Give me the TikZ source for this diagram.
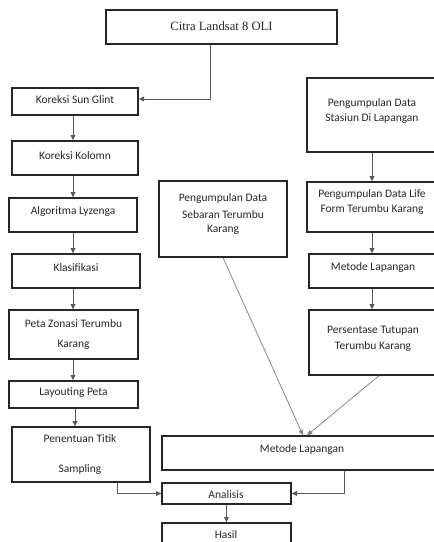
\documentclass[tikz,border=0pt]{standalone}
\usepackage{fontspec}
\setmainfont{Carlito}
\newfontfamily\serifit{Liberation Serif}
\usetikzlibrary{arrows.meta}
\begin{document}
\begin{tikzpicture}[x=0.75pt,y=-0.75pt,
  box/.style={draw=black!85,line width=1pt,inner sep=0pt},
  txt/.style={inner sep=0pt,font=\fontsize{8.6}{10}\selectfont,text=black!85},
  con/.style={draw=black!65,line width=0.6pt,-{Triangle[length=4pt,width=3.6pt]}},
  diag/.style={draw=black!50,line width=0.55pt,-{Triangle[length=4pt,width=3.6pt]}}]
\useasboundingbox (0,0) rectangle (434,542);
\clip (0,0) rectangle (434,542);
% boxes
\node[box,minimum width=231*0.75pt,minimum height=34*0.75pt] (citra) at (221.5,27) {};
\node[box,minimum width=126*0.75pt,minimum height=27*0.75pt] (sun) at (75,101.5) {};
\node[box,minimum width=126*0.75pt,minimum height=34*0.75pt] (kolomn) at (75,158) {};
\node[box,minimum width=128*0.75pt,minimum height=34*0.75pt] (algo) at (73,215) {};
\node[box,minimum width=128*0.75pt,minimum height=34*0.75pt] (klas) at (76,271) {};
\node[box,minimum width=129*0.75pt,minimum height=49*0.75pt] (peta) at (73.5,334.5) {};
\node[box,minimum width=129*0.75pt,minimum height=27*0.75pt] (layout) at (73.5,394.5) {};
\node[box,minimum width=138*0.75pt,minimum height=55*0.75pt] (penentuan) at (81,454.5) {};
\node[box,minimum width=130*0.75pt,minimum height=74*0.75pt] (stasiun) at (372,115) {};
\node[box,minimum width=130*0.75pt,minimum height=50*0.75pt] (life) at (372,207) {};
\node[box,minimum width=128*0.75pt,minimum height=34*0.75pt] (metodeR) at (373,271) {};
\node[box,minimum width=128*0.75pt,minimum height=65*0.75pt] (persen) at (373,342.5) {};
\node[box,minimum width=128*0.75pt,minimum height=76*0.75pt] (sebaran) at (223,219) {};
\node[box,minimum width=280*0.75pt,minimum height=34*0.75pt] (metodeB) at (302,453) {};
\node[box,minimum width=129*0.75pt,minimum height=21*0.75pt] (analisis) at (226.5,493.5) {};
\node[box,minimum width=129*0.75pt,minimum height=25*0.75pt] (hasil) at (226.5,535.5) {};
% texts
\node[txt,font=\serifit\fontsize{9.5}{11}\selectfont] (t1) at (221.5,26) {Citra Landsat 8 OLI};
\node[txt] (t2) at (75,99.5) {Koreksi Sun Glint};
\node[txt] (t3) at (75,155.5) {Koreksi Kolomn};
\node[txt] (t4) at (73,211.5) {Algoritma Lyzenga};
\node[txt] (t5) at (76,267.5) {Klasifikasi};
\node[txt] (t6a) at (73.5,324) {Peta Zonasi Terumbu};
\node[txt] (t6b) at (73.5,345) {Karang};
\node[txt] (t7) at (73.5,393) {Layouting Peta};
\node[txt] (t8a) at (80,439) {Penentuan Titik};
\node[txt] (t8b) at (80,469.5) {Sampling};
\node[txt] (t9a) at (372,103.5) {Pengumpulan Data};
\node[txt] (t9b) at (372,119) {Stasiun Di Lapangan};
\node[txt] (t10a) at (372,195) {Pengumpulan Data Life};
\node[txt] (t10b) at (372,210) {Form Terumbu Karang};
\node[txt] (t11) at (373,267.5) {Metode Lapangan};
\node[txt] (t12a) at (373,331) {Persentase Tutupan};
\node[txt] (t12b) at (373,347) {Terumbu Karang};
\node[txt] (t13a) at (223,199) {Pengumpulan Data};
\node[txt] (t13b) at (223,214.5) {Sebaran Terumbu};
\node[txt] (t13c) at (223,230) {Karang};
\node[txt] (t14) at (302,449) {Metode Lapangan};
\node[txt] (t15) at (226,495) {Analisis};
\node[txt] (t16) at (226,535) {Hasil};
% connectors
\draw[con] (citra.south -| 210,0) |- ([yshift=1.9pt]sun.east);
\draw[con] (sun.south -| 73,0) -- (kolomn.north -| 73,0);
\draw[con] (kolomn.south -| 73,0) -- (algo.north -| 73,0);
\draw[con] (algo.south -| 73,0) -- (klas.north -| 73,0);
\draw[con] (klas.south -| 73,0) -- (peta.north -| 73,0);
\draw[con] (peta.south -| 73,0) -- (layout.north -| 73,0);
\draw[con] (layout.south -| 75,0) -- (penentuan.north -| 75,0);
\draw[con] (stasiun.south -| 372,0) -- (life.north -| 372,0);
\draw[con] (life.south -| 372,0) -- (metodeR.north -| 372,0);
\draw[con] (metodeR.south -| 372,0) -- (persen.north -| 372,0);
\draw[diag] (sebaran.south -| 223,0) -- (metodeB.north -| 303,0);
\draw[diag] (persen.south -| 379,0) -- (metodeB.north -| 307,0);
\draw[con] (penentuan.south -| 117,0) |- (analisis.west);
\draw[con] (metodeB.south -| 344,0) |- (analisis.east);
\draw[con] (analisis.south) -- (hasil.north);
\end{tikzpicture}
\end{document}
